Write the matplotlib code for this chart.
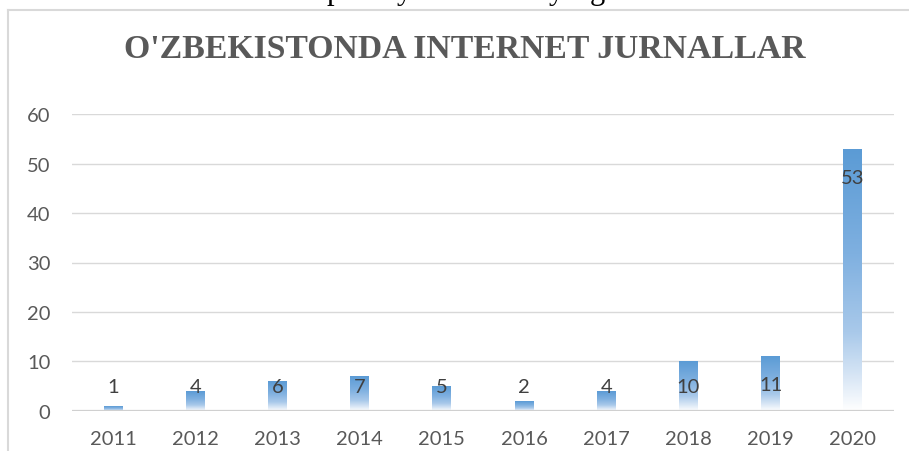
import numpy as np
import matplotlib
matplotlib.use("Agg")
import matplotlib.pyplot as plt
from matplotlib.colors import LinearSegmentedColormap
from matplotlib.patches import Rectangle

# Data
years = ["2011", "2012", "2013", "2014", "2015", "2016", "2017", "2018", "2019", "2020"]
counts = [1, 4, 6, 7, 5, 2, 4, 10, 11, 53]
yticks = [0, 10, 20, 30, 40, 50, 60]
title = "O'ZBEKISTONDA INTERNET JURNALLAR"

W, H = 909, 452
fig = plt.figure(figsize=(W / 100, H / 100), dpi=100)
fig.patch.set_facecolor("white")

# axes placed in pixel coordinates
left, right, bottom, top = 72, 894, H - 411.7, H - 115.3
ax = fig.add_axes([left / W, bottom / H, (right - left) / W, (top - bottom) / H])
ax.set_facecolor("none")

x = np.arange(len(years))
bars = ax.bar(x, counts, width=0.23, color="none", edgecolor="none", zorder=3)

# vertical gradient (blue at top, white at bottom)
grad_cmap = LinearSegmentedColormap.from_list(
    "bargrad",
    [(0.0, "#ffffff"), (0.12, "#dbe8f6"), (0.3, "#a9c9ea"), (0.6, "#7fb0e0"), (1.0, "#5b9bd5")],
)
grad = np.linspace(0, 1, 256).reshape(-1, 1)
for b in bars:
    bx, bw, bh = b.get_x(), b.get_width(), b.get_height()
    im = ax.imshow(grad, extent=[bx, bx + bw, 0, bh], origin="lower", aspect="auto",
                   cmap=grad_cmap, zorder=3, interpolation="bilinear")
    im.set_clip_path(Rectangle((bx, 0), bw, bh, transform=ax.transData))

ax.set_xlim(-0.5, len(years) - 0.5)
ax.set_ylim(0, 60)

for y in yticks[1:]:
    ax.axhline(y, color="#d9d9d9", lw=1.0, zorder=1)
ax.axhline(0, color="#d0d0d0", lw=1.6, zorder=4)

for s in ax.spines.values():
    s.set_visible(False)

lab_font = dict(family=["Lato", "DejaVu Sans"], size=14.5, color="#595959")
ax.set_yticks(yticks)
ax.set_yticklabels([str(t) for t in yticks], **lab_font)
ax.set_xticks(x)
ax.set_xticklabels(years, **lab_font)
ax.tick_params(axis="both", length=0)
ax.tick_params(axis="y", pad=15.5)
ax.tick_params(axis="x", pad=14)

# data labels: inside end, but never lower than a fixed height above the base
for xi, v in zip(x, counts):
    ax.text(xi, max(v - 5.7, 4.8), str(v), ha="center", va="center",
            family=["Lato", "DejaVu Sans"], size=14.5, color="#404040", zorder=5)

# title
fig.text(465 / W, 1 - 49 / H, title, ha="center", va="center",
         family=["Liberation Serif", "DejaVu Serif"], weight="bold", size=24.3,
         color="#595959")

# chart frame (runs off the right and bottom edges)
fig.add_artist(plt.Line2D([7.8 / W, 7.8 / W], [0, 1 - 11 / H], color="#d9d9d9", lw=1.5,
                          transform=fig.transFigure))
fig.add_artist(plt.Line2D([7.8 / W, 1], [1 - 11 / H, 1 - 11 / H], color="#d9d9d9", lw=1.5,
                          transform=fig.transFigure))

# descenders of the text line above the chart, cut off by the image edge
for px, ch in [(334, "p"), (404, "y"), (556, "y"), (597, "g")]:
    fig.text(px / W, 1 + 1 / H, ch, ha="center", va="baseline",
             family=["Liberation Serif", "DejaVu Serif"], size=22, color="black")

fig.savefig("out.png", dpi=100)
